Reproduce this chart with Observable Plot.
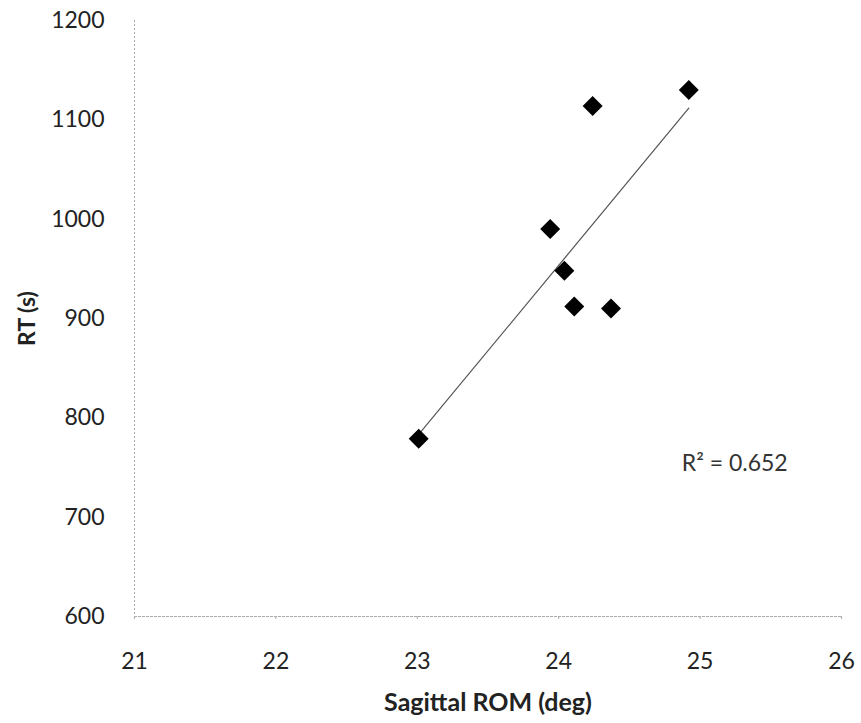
<!DOCTYPE html>
<html>
<head>
<meta charset="utf-8">
<script src="https://cdn.jsdelivr.net/npm/d3@7"></script>
<script src="https://cdn.jsdelivr.net/npm/@observablehq/plot@0.6"></script>
<style>
  html, body { margin: 0; padding: 0; background: #fff; }
  #chart svg { font-family: Lato, "Open Sans", sans-serif; }
</style>
</head>
<body>
<div id="chart"></div>
<script>
const sagittalROM = [23.01, 23.94, 24.04, 24.11, 24.24, 24.37, 24.92];
const rtSeconds   = [779, 990, 948, 912, 1114, 910, 1130];
const xTicks = [21, 22, 23, 24, 25, 26];
const yTicks = [600, 700, 800, 900, 1000, 1100, 1200];
const r2Label = "R\u00B2 = 0.652";

const data = sagittalROM.map((x, i) => ({x, y: rtSeconds[i]}));

const chart = Plot.plot({
  width: 861,
  height: 723,
  marginLeft: 134,
  marginRight: 20,
  marginTop: 20,
  marginBottom: 107,
  style: {fontSize: "23px", color: "#222", background: "#fff"},
  x: {domain: [21, 26], ticks: xTicks},
  y: {domain: [600, 1200], ticks: yTicks},
  marks: [
    Plot.ruleX([21], {stroke: "#aaa", strokeWidth: 1, strokeDasharray: "2,2"}),
    Plot.ruleY([600], {stroke: "#aaa", strokeWidth: 1, strokeDasharray: "3,1"}),
    Plot.axisX({ticks: xTicks, tickFormat: "d", tickSize: 3, tickPadding: 33, stroke: "#aaa",
      label: "Sagittal ROM (deg)", labelAnchor: "center", labelArrow: "none", labelOffset: 94,
      fontSize: 23}),
    Plot.axisY({ticks: yTicks, tickFormat: "d", tickSize: 0, tickPadding: 30,
      label: "RT (s)", labelAnchor: "center", labelArrow: "none", labelOffset: 116,
      fontSize: 23}),
    Plot.linearRegressionY(data, {x: "x", y: "y", ci: 0, stroke: "#555", strokeWidth: 1.2}),
    Plot.dot(data, {x: "x", y: "y", symbol: "diamond2", r: 9, fill: "#000", stroke: "none"}),
    Plot.text([r2Label], {x: 24.87, y: 754, text: d => d, textAnchor: "start", fontSize: 23, fill: "#333"})
  ]
});

// bold axis titles
chart.querySelectorAll("[aria-label='x-axis label'] text").forEach(t => {
  t.setAttribute("font-weight", "bold");
  t.setAttribute("font-size", "25");
});
chart.querySelectorAll("[aria-label='y-axis label'] text").forEach(t => {
  t.setAttribute("font-weight", "bold");
  t.setAttribute("font-size", "23");
});
document.getElementById("chart").appendChild(chart);
</script>
</body>
</html>
